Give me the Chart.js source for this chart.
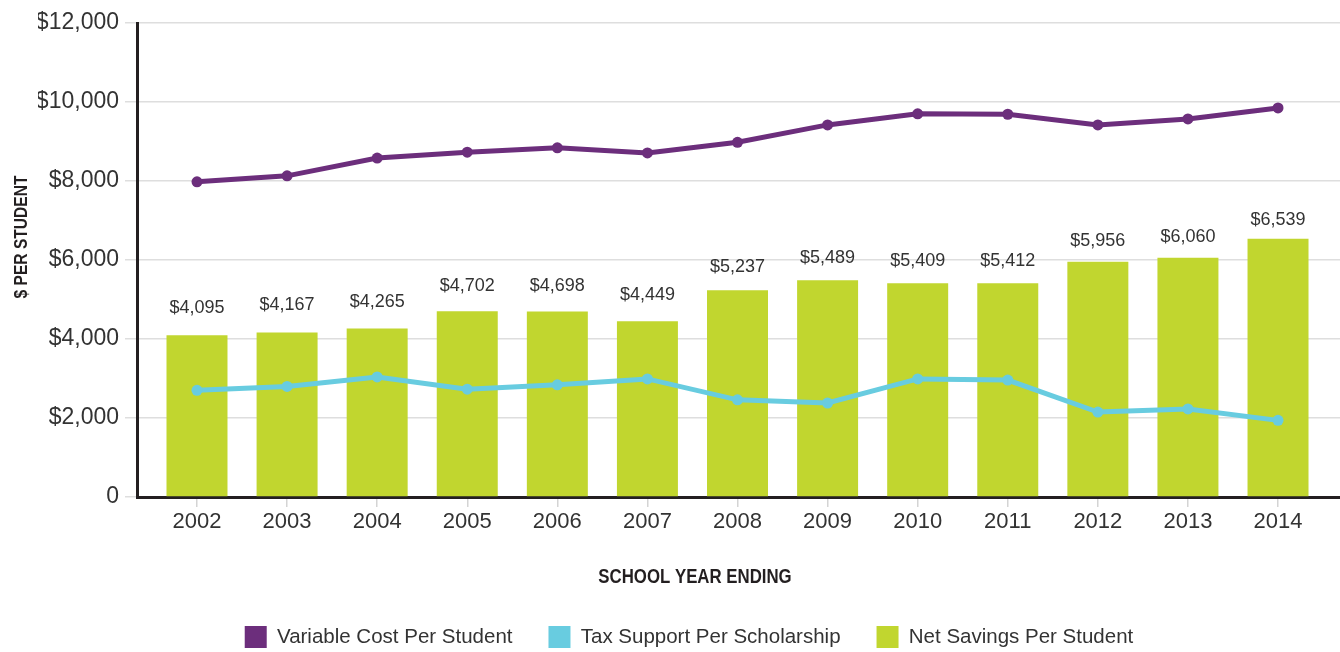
<!DOCTYPE html>
<html><head><meta charset="utf-8">
<script src="https://cdn.jsdelivr.net/npm/chart.js@4.4.1/dist/chart.umd.min.js"></script>
<style>html,body{margin:0;padding:0;background:#fff}#wrap{width:1340px;height:652px}</style>
</head><body><div id="wrap"><canvas id="c" width="1340" height="652"></canvas></div>
<script>
const years = [2002, 2003, 2004, 2005, 2006, 2007, 2008, 2009, 2010, 2011, 2012, 2013, 2014];
const variableCost = [7980, 8130, 8580, 8730, 8840, 8710, 8980, 9420, 9700, 9690, 9420, 9570, 9850];
const taxSupport = [2700, 2800, 3040, 2730, 2840, 2990, 2460, 2380, 2990, 2960, 2150, 2230, 1940];
const netSavings = [4095, 4167, 4265, 4702, 4698, 4449, 5237, 5489, 5409, 5412, 5956, 6060, 6539];
const yTickValues = [0, 2000, 4000, 6000, 8000, 10000, 12000];
const seriesNames = ['Variable Cost Per Student', 'Tax Support Per Scholarship', 'Net Savings Per Student'];
const xAxisTitle = 'SCHOOL YEAR ENDING';
const yAxisTitle = '$ PER STUDENT';

const COLORS = { purple: '#6c2e7c', cyan: '#68cce0', green: '#c1d62f', text: '#333333', axis: '#231f20', grid: '#dedede' };
const FONT = '"Liberation Sans", Arial, sans-serif';

function money(v) { return v === 0 ? '0' : '$' + v.toLocaleString('en-US'); }
function pts(vals) { return years.map((y, i) => ({ x: y, y: vals[i] })); }

const extrasPlugin = {
  id: 'extras',
  afterDatasetsDraw(chart) {
    const ctx = chart.ctx;
    const meta = chart.getDatasetMeta(2);
    ctx.save();
    ctx.font = '18px ' + FONT;
    ctx.fillStyle = COLORS.text;
    ctx.textAlign = 'center';
    ctx.textBaseline = 'middle';
    meta.data.forEach((el, i) => {
      const gap = 41.6 - 0.0035 * netSavings[i];
      ctx.fillText(money(netSavings[i]), el.x, el.y - gap);
    });
    ctx.restore();
  },
  afterDraw(chart) {
    const ctx = chart.ctx;
    ctx.save();
    ctx.fillStyle = '#231f20';
    ctx.textAlign = 'center';
    ctx.textBaseline = 'middle';
    ctx.save();
    ctx.font = 'bold 20.5px ' + FONT;
    ctx.translate(695, 577);
    ctx.scale(0.82, 1);
    ctx.fillText(xAxisTitle, 0, 0);
    ctx.restore();
    ctx.save();
    ctx.font = 'bold 19px ' + FONT;
    ctx.translate(22, 237);
    ctx.rotate(-Math.PI / 2);
    ctx.scale(0.82, 1);
    ctx.fillText(yAxisTitle, 0, 0);
    ctx.restore();
    ctx.restore();
  }
};

new Chart(document.getElementById('c'), {
  data: {
    datasets: [
      { type: 'line', label: seriesNames[0], data: pts(variableCost), borderColor: COLORS.purple, backgroundColor: COLORS.purple,
        borderWidth: 5, pointRadius: 5.5, pointBorderWidth: 0, pointBackgroundColor: COLORS.purple, tension: 0, order: 0 },
      { type: 'line', label: seriesNames[1], data: pts(taxSupport), borderColor: COLORS.cyan, backgroundColor: COLORS.cyan,
        borderWidth: 5, pointRadius: 5.5, pointBorderWidth: 0, pointBackgroundColor: COLORS.cyan, tension: 0, order: 1 },
      { type: 'bar', label: seriesNames[2], data: pts(netSavings), backgroundColor: COLORS.green,
        barPercentage: 0.677, categoryPercentage: 1, order: 2 }
    ]
  },
  options: {
    responsive: false,
    animation: false,
    layout: { autoPadding: false, padding: { left: 38, top: 23, right: 0, bottom: 0 } },
    scales: {
      x: {
        type: 'linear', min: 2001.334, max: 2014.688, offset: false,
        afterBuildTicks(s) { s.ticks = years.map(v => ({ value: v })); },
        afterFit(s) { s.height = 93; s.paddingRight = 0; s.paddingLeft = 0; },
        ticks: { callback: v => String(v), font: { family: FONT, size: 22 }, color: COLORS.text, padding: 2, maxRotation: 0 },
        grid: { offset: false, drawOnChartArea: false, drawTicks: true, tickLength: 10, color: '#d4d4d4', lineWidth: 1.5 },
        border: { color: COLORS.axis, width: 3 }
      },
      y: {
        min: 0, max: 12000,
        afterBuildTicks(s) { s.ticks = yTickValues.map(v => ({ value: v })); },
        afterFit(s) { s.width = 99; },
        ticks: { callback: v => money(v), font: { family: FONT, size: 23 }, color: COLORS.text, padding: 6 },
        grid: { color: COLORS.grid, lineWidth: 1.5, tickLength: 12 },
        border: { color: COLORS.axis, width: 3 }
      }
    },
    plugins: {
      tooltip: { enabled: false },
      legend: {
        position: 'bottom', maxHeight: 62,
        labels: {
          boxWidth: 22, boxHeight: 22, padding: 36, color: COLORS.text,
          font: { family: FONT, size: 20.5 },
          generateLabels(chart) {
            return chart.data.datasets.map((d, i) => ({
              text: d.label, fillStyle: d.backgroundColor, strokeStyle: d.backgroundColor,
              lineWidth: 0, hidden: false, datasetIndex: i, fontColor: COLORS.text
            }));
          }
        }
      }
    }
  },
  plugins: [extrasPlugin]
});
</script></body></html>
